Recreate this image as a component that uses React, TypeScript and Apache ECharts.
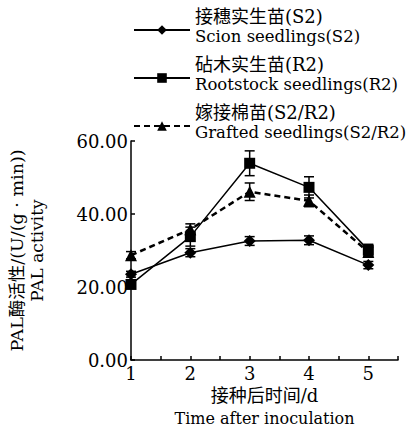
import React, { useEffect, useRef } from "react";
import * as echarts from "echarts";

const days = [1, 2, 3, 4, 5];
const scion = [23.5, 29.4, 32.6, 32.8, 26.0];
const scionErr = [0.8, 1.1, 1.2, 1.2, 1.0];
const rootstock = [20.7, 33.8, 53.9, 47.3, 30.1];
const rootstockErr = [1.0, 2.6, 3.4, 2.9, 1.6];
const grafted = [28.7, 35.8, 46.1, 43.6, 29.6];
const graftedErr = [1.0, 1.5, 2.4, 1.6, 1.3];

const seriesCn = ["接穗实生苗(S2)", "砧木实生苗(R2)", "嫁接棉苗(S2/R2)"];
const seriesEn = ["Scion seedlings(S2)", "Rootstock seedlings(R2)", "Grafted seedlings(S2/R2)"];
const seriesNames = seriesCn.map((c, i) => c + "\n" + seriesEn[i]);
const yTicks = [0, 20, 40, 60];

const FONT = "'DejaVu Serif', 'Liberation Serif', 'Noto Sans CJK SC', serif";

function pairs(vals: number[]) {
  return days.map((d, i) => [d, vals[i]]);
}
function triples(vals: number[], errs: number[]) {
  return days.map((d, i) => [d, vals[i], errs[i]]);
}

function errorSeries(vals: number[], errs: number[]) {
  return {
    type: "custom",
    silent: true,
    z: 1,
    data: triples(vals, errs),
    encode: { x: 0, y: 1 },
    renderItem: (params: any, api: any) => {
      const x = api.value(0);
      const y = api.value(1);
      const e = api.value(2);
      const top = api.coord([x, y + e]);
      const bot = api.coord([x, y - e]);
      const w = 5;
      const st = { stroke: "#000", lineWidth: 1.5 };
      return {
        type: "group",
        children: [
          { type: "line", shape: { x1: top[0], y1: top[1], x2: bot[0], y2: bot[1] }, style: st },
          { type: "line", shape: { x1: top[0] - w, y1: top[1], x2: top[0] + w, y2: top[1] }, style: st },
          { type: "line", shape: { x1: bot[0] - w, y1: bot[1], x2: bot[0] + w, y2: bot[1] }, style: st },
        ],
      };
    },
  };
}

const richText = {
  c: { fontFamily: FONT, fontSize: 18, lineHeight: 20, color: "#000" },
  e: { fontFamily: FONT, fontSize: 16.5, lineHeight: 20, color: "#000" },
};

export default function App() {
  const ref = useRef<HTMLDivElement>(null);
  useEffect(() => {
    if (!ref.current) return;
    const chart = echarts.init(ref.current, undefined, { renderer: "svg" });
    chart.setOption({
      animation: false,
      backgroundColor: "#fff",
      textStyle: { fontFamily: FONT, color: "#000" },
      legend: {
        orient: "vertical",
        left: 133,
        top: 6,
        itemWidth: 56,
        itemHeight: 12,
        itemGap: 0,
        padding: 0,
        textStyle: {
          fontFamily: FONT,
          fontSize: 16,
          lineHeight: 20,
          color: "#000",
          padding: [0, 0, 8, 0],
          rich: richText,
        },
        formatter: (name: string) => {
          const [c, e] = name.split("\n");
          return `{c|${c}}\n{e|${e}}`;
        },
        data: seriesNames,
      },
      grid: { left: 131, right: 17, top: 141, bottom: 75, outerBoundsMode: "none", containLabel: false },
      xAxis: {
        type: "value",
        min: 1,
        max: 5.5,
        interval: 0.5,
        name: "{c|接种后时间/d}\n{e|Time after inoculation}",
        nameLocation: "middle",
        nameGap: 24,
        nameTextStyle: {
          fontFamily: FONT,
          fontSize: 16,
          color: "#000",
          rich: {
            c: { fontFamily: FONT, fontSize: 18, lineHeight: 23, color: "#000" },
            e: { fontFamily: FONT, fontSize: 16, lineHeight: 23, color: "#000" },
          },
        },
        axisLine: { lineStyle: { color: "#000", width: 1.5 } },
        axisTick: { inside: true, length: 4, lineStyle: { color: "#000", width: 1.5 } },
        axisLabel: {
          fontFamily: FONT,
          fontSize: 18,
          color: "#000",
          margin: 4,
          formatter: (v: number) => (Number.isInteger(v) ? String(v) : ""),
        },
        splitLine: { show: false },
      },
      yAxis: {
        type: "value",
        min: yTicks[0],
        max: yTicks[yTicks.length - 1],
        interval: 20,
        name: "{c|PAL酶活性/(U/(g · min))}\n{e|PAL activity}",
        nameLocation: "middle",
        nameRotate: 90,
        nameGap: 84,
        nameTextStyle: {
          fontFamily: FONT,
          fontSize: 17,
          color: "#000",
          rich: {
            c: { fontFamily: FONT, fontSize: 17.5, lineHeight: 20, color: "#000" },
            e: { fontFamily: FONT, fontSize: 17, lineHeight: 20, color: "#000" },
          },
        },
        axisLine: { show: true, lineStyle: { color: "#000", width: 1.5 } },
        axisTick: { show: true, inside: true, length: 4, lineStyle: { color: "#000", width: 1.5 } },
        axisLabel: {
          fontFamily: FONT,
          fontSize: 18,
          color: "#000",
          margin: 3,
          formatter: (v: number) => v.toFixed(2),
        },
        splitLine: { show: false },
      },
      series: [
        errorSeries(scion, scionErr),
        errorSeries(rootstock, rootstockErr),
        errorSeries(grafted, graftedErr),
        {
          name: seriesNames[0],
          type: "line",
          data: pairs(scion),
          symbol: "diamond",
          symbolSize: 12,
          z: 3,
          lineStyle: { color: "#000", width: 1.5 },
          itemStyle: { color: "#000" },
        },
        {
          name: seriesNames[1],
          type: "line",
          data: pairs(rootstock),
          symbol: "rect",
          symbolSize: 11,
          z: 3,
          lineStyle: { color: "#000", width: 1.5 },
          itemStyle: { color: "#000" },
        },
        {
          name: seriesNames[2],
          type: "line",
          data: pairs(grafted),
          symbol: "triangle",
          symbolSize: 12,
          z: 3,
          lineStyle: { color: "#000", width: 2.5, type: [6, 4] },
          itemStyle: { color: "#000" },
        },
      ],
    });
    return () => chart.dispose();
  }, []);
  return (
    <div
      ref={ref}
      style={{ position: "fixed", left: 0, top: 0, width: 415, height: 435 }}
    />
  );
}
